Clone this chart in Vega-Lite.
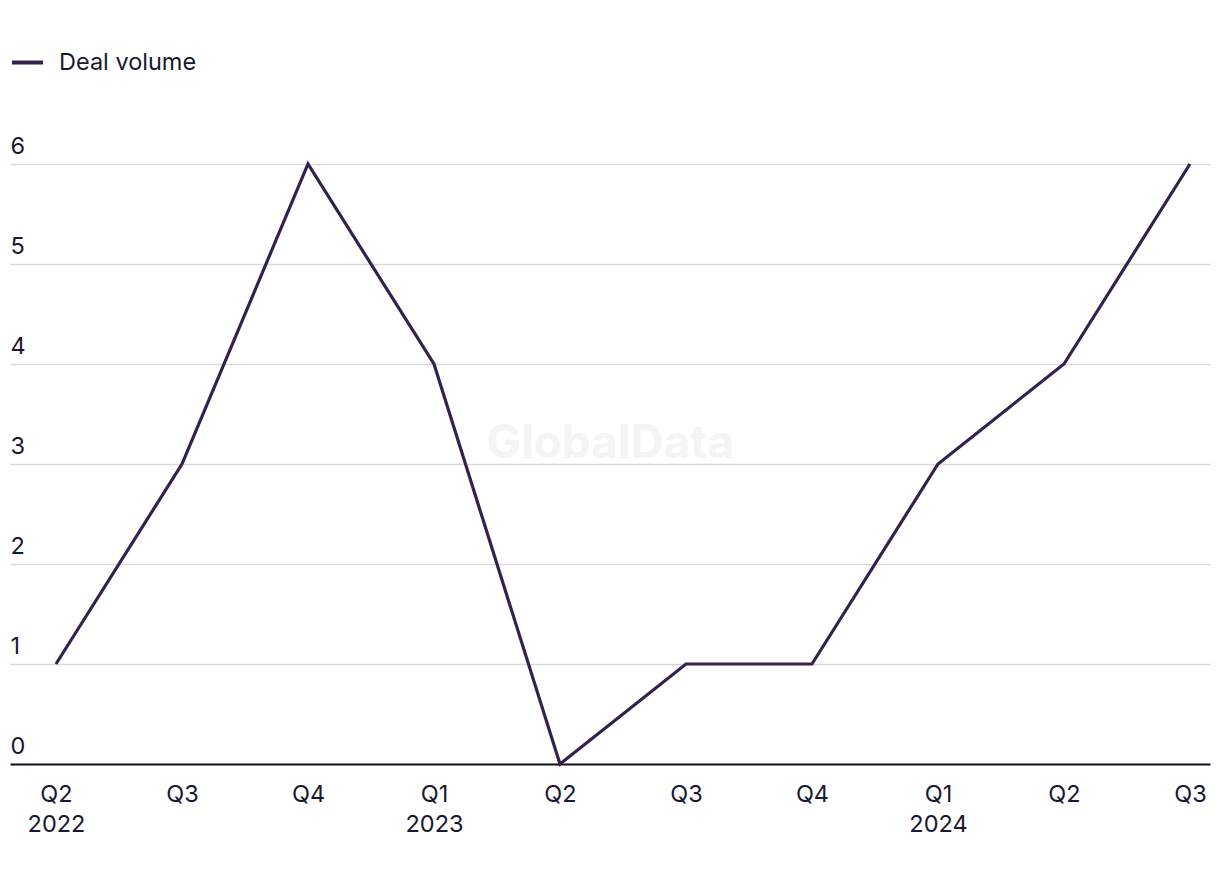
{
  "$schema": "https://vega.github.io/schema/vega-lite/v6.json",
  "width": 1200,
  "height": 600,
  "autosize": {"type": "none"},
  "padding": {"left": 10, "top": 164, "right": 10, "bottom": 120},
  "background": "#ffffff",
  "config": {
    "font": "Inter",
    "view": {"stroke": null}
  },
  "layer": [
    {
      "data": {"values": [{"t": "GlobalData"}]},
      "mark": {"type": "text", "fontSize": 46, "fontWeight": "bold", "color": "#f4f4f4", "align": "center", "baseline": "middle"},
      "encoding": {
        "x": {"datum": 4.4, "type": "quantitative"},
        "y": {"datum": 3.2, "type": "quantitative"},
        "text": {"field": "t"}
      }
    },
    {
      "data": {
        "values": [
          {"i": 0, "quarter": "Q2 2022", "volume": 1},
          {"i": 1, "quarter": "Q3 2022", "volume": 3},
          {"i": 2, "quarter": "Q4 2022", "volume": 6},
          {"i": 3, "quarter": "Q1 2023", "volume": 4},
          {"i": 4, "quarter": "Q2 2023", "volume": 0},
          {"i": 5, "quarter": "Q3 2023", "volume": 1},
          {"i": 6, "quarter": "Q4 2023", "volume": 1},
          {"i": 7, "quarter": "Q1 2024", "volume": 3},
          {"i": 8, "quarter": "Q2 2024", "volume": 4},
          {"i": 9, "quarter": "Q3 2024", "volume": 6}
        ]
      },
      "mark": {"type": "line", "strokeWidth": 3.2, "strokeJoin": "miter"},
      "encoding": {
        "x": {
          "field": "i",
          "type": "quantitative",
          "scale": {"domain": [-0.365, 9.159], "nice": false, "zero": false},
          "axis": {
            "title": null,
            "values": [0, 1, 2, 3, 4, 5, 6, 7, 8, 9],
            "grid": false,
            "ticks": false,
            "domain": true,
            "domainColor": "#15132b",
            "domainWidth": 2,
            "labelExpr": "[['Q2','2022'],['Q3'],['Q4'],['Q1','2023'],['Q2'],['Q3'],['Q4'],['Q1','2024'],['Q2'],['Q3']][datum.value]",
            "labelFontSize": 23.5,
            "labelColor": "#1a1830",
            "labelPadding": 18,
            "labelLineHeight": 30,
            "labelBaseline": "top",
            "labelFlush": false,
            "labelOverlap": false
          }
        },
        "y": {
          "field": "volume",
          "type": "quantitative",
          "scale": {"domain": [0, 6], "nice": false},
          "axis": {
            "title": null,
            "values": [0, 1, 2, 3, 4, 5, 6],
            "format": "d",
            "domain": false,
            "ticks": false,
            "grid": true,
            "gridColor": "#d9d9d9",
            "gridWidth": 1.5,
            "labelAlign": "left",
            "labelBaseline": "alphabetic",
            "labelPadding": 0,
            "labelOffset": -11,
            "labelFontSize": 23.5,
            "labelColor": "#1a1830"
          }
        },
        "color": {
          "datum": "Deal volume",
          "type": "nominal",
          "scale": {"range": ["#33214f"]},
          "legend": {
            "title": null,
            "orient": "none",
            "legendX": 0,
            "legendY": -119,
            "symbolType": "stroke",
            "symbolSize": 961,
            "symbolStrokeWidth": 4,
            "labelFontSize": 23.5,
            "labelColor": "#1a1830",
            "labelOffset": 14,
            "padding": 0
          }
        }
      }
    }
  ]
}
